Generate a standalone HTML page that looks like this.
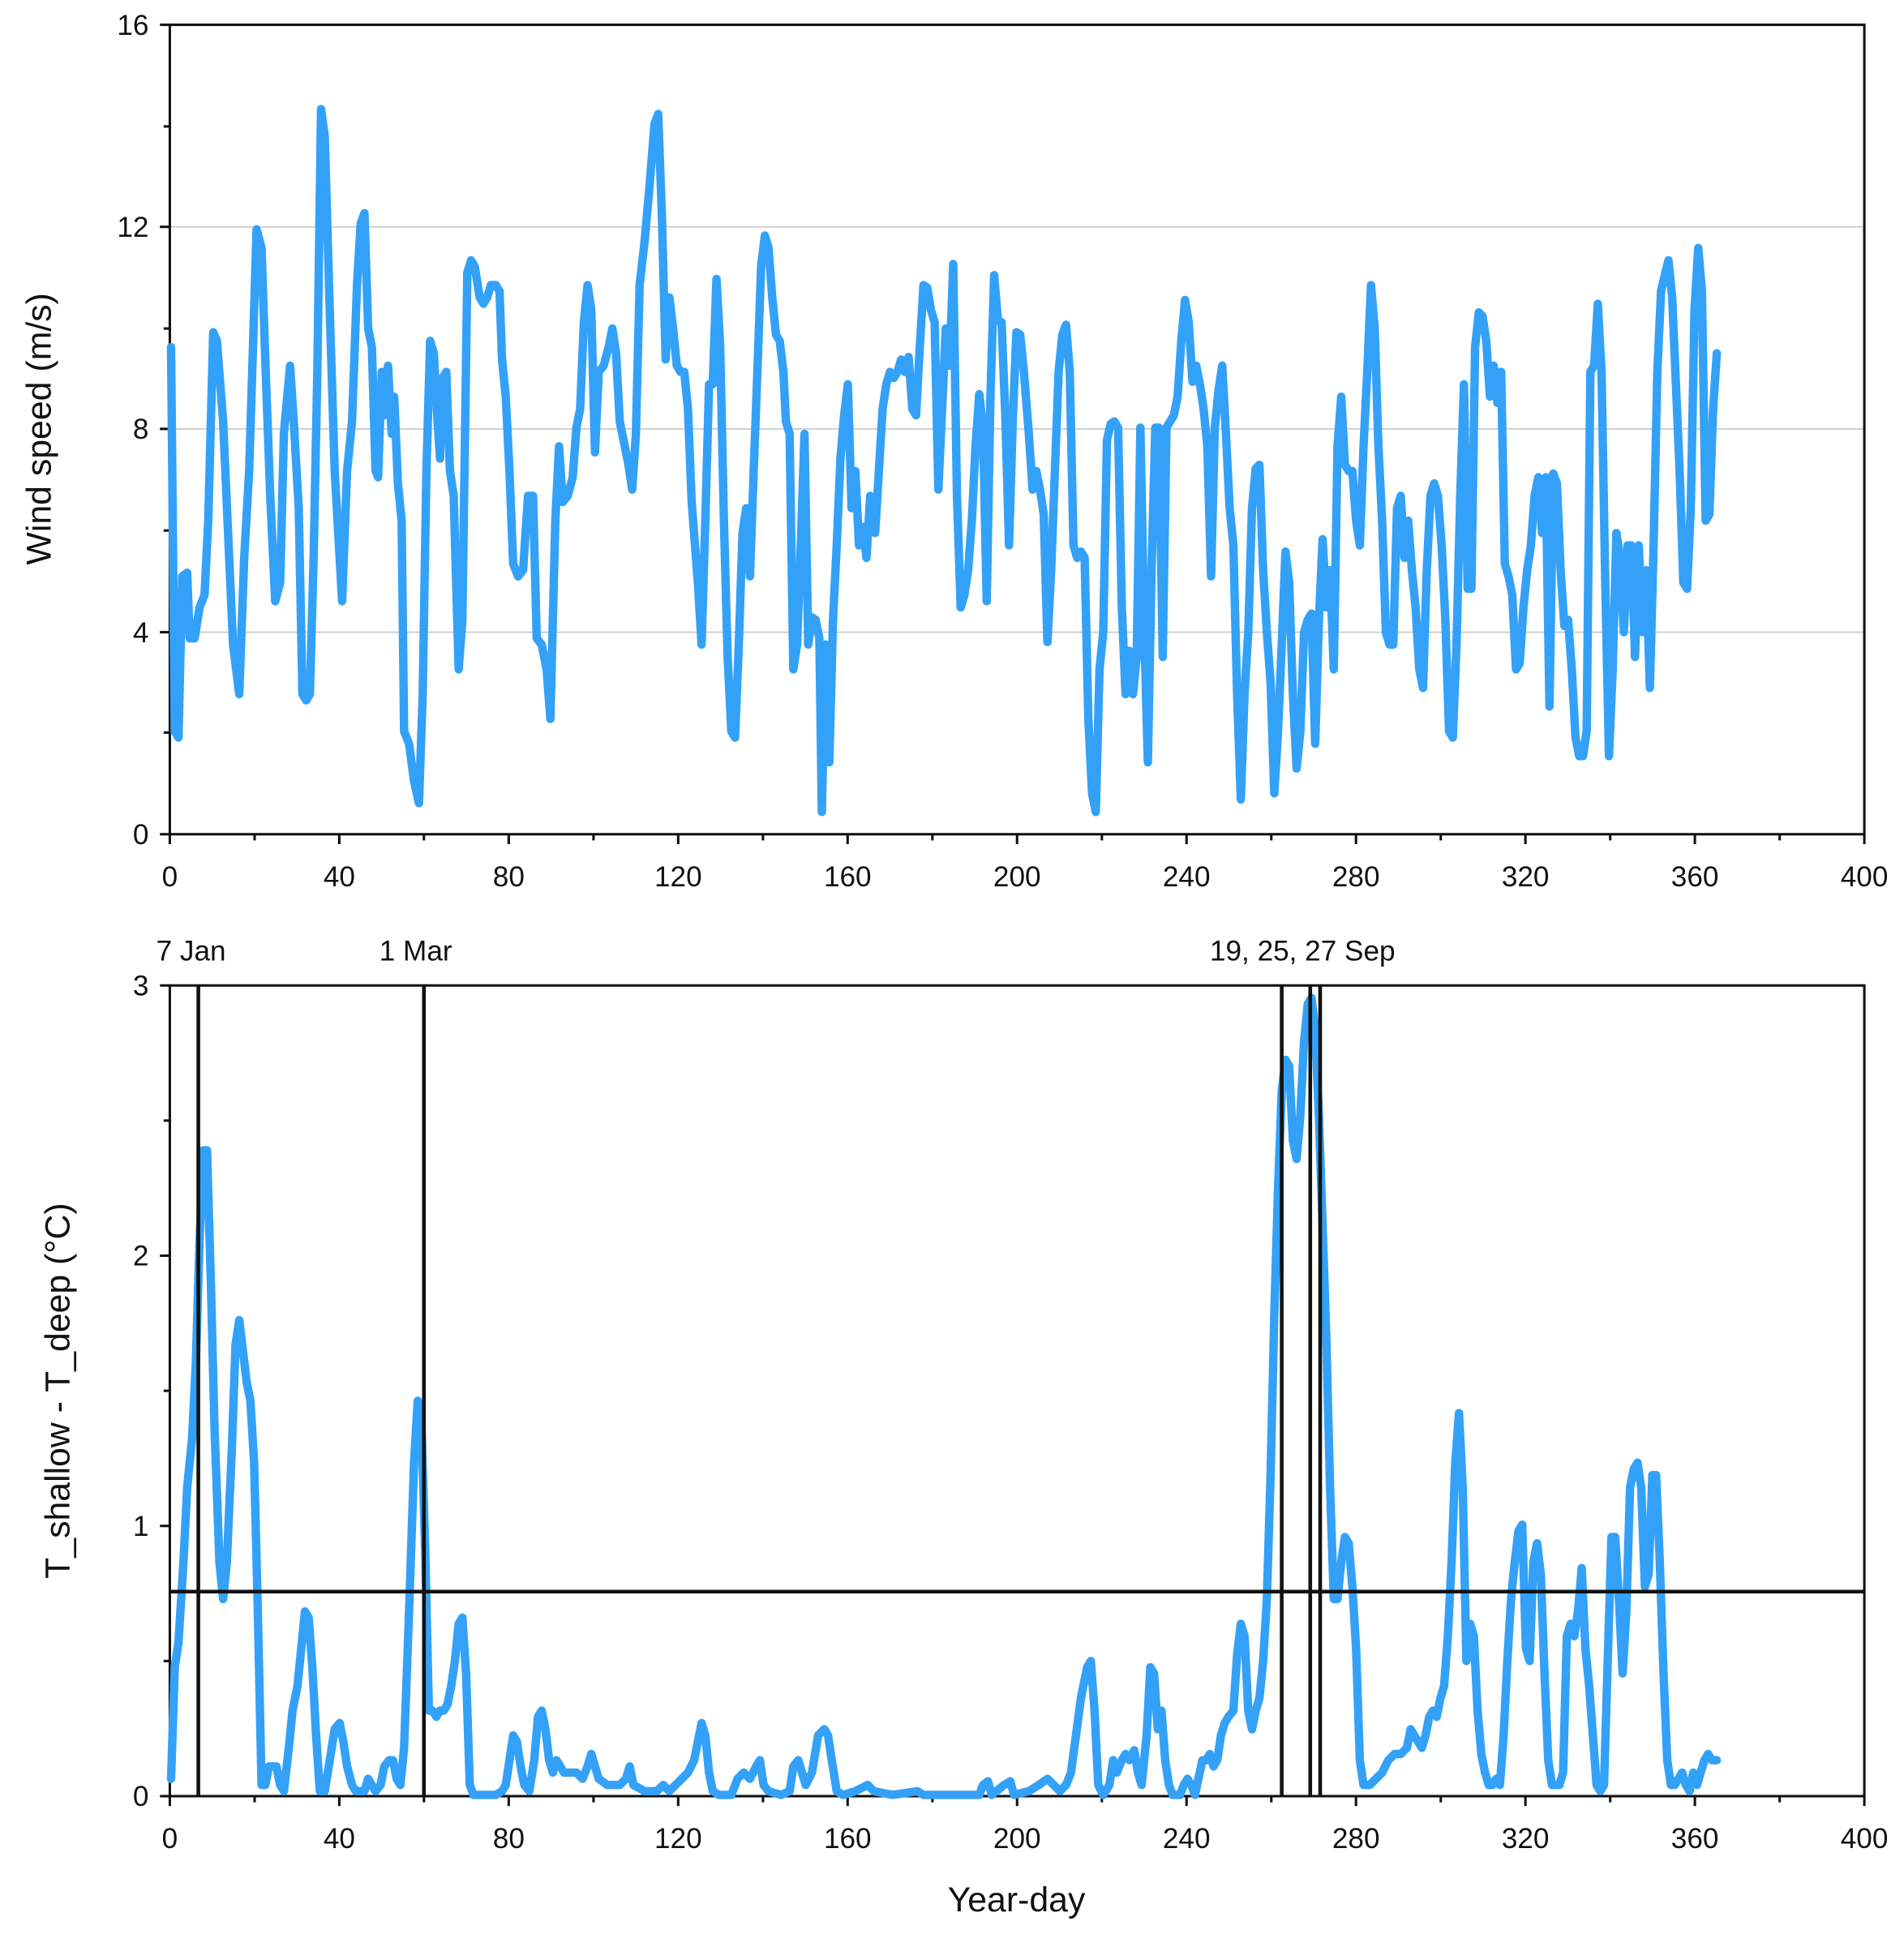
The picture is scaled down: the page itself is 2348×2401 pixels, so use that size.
<!DOCTYPE html>
<html><head><meta charset="utf-8"><style>
html,body{margin:0;padding:0;background:#fff}
svg{display:block}
text{font-family:"Liberation Sans",sans-serif;fill:#111}
</style></head><body>
<svg width="2348" height="2401" viewBox="0 0 1536 1570.7" preserveAspectRatio="none" xmlns="http://www.w3.org/2000/svg">
<g stroke="#d0d0d0" stroke-width="1.3">
<line x1="137" y1="183" x2="1504" y2="183"/><line x1="137" y1="346" x2="1504" y2="346"/><line x1="137" y1="510" x2="1504" y2="510"/>
</g>
<rect x="137" y="20" width="1367" height="653" fill="none" stroke="#111" stroke-width="2"/>
<g stroke="#111" stroke-width="2">
<line x1="129" y1="20" x2="137" y2="20"/><line x1="129" y1="183" x2="137" y2="183"/><line x1="129" y1="346" x2="137" y2="346"/><line x1="129" y1="510" x2="137" y2="510"/><line x1="129" y1="673" x2="137" y2="673"/>
<line x1="132" y1="102" x2="137" y2="102"/><line x1="132" y1="265" x2="137" y2="265"/><line x1="132" y1="428" x2="137" y2="428"/><line x1="132" y1="591" x2="137" y2="591"/>
</g>
<g stroke="#111" stroke-width="2" id="xt">
<line x1="137" y1="673" x2="137" y2="681"/><line x1="273.7" y1="673" x2="273.7" y2="681"/><line x1="410.4" y1="673" x2="410.4" y2="681"/><line x1="547.1" y1="673" x2="547.1" y2="681"/><line x1="683.8" y1="673" x2="683.8" y2="681"/><line x1="820.5" y1="673" x2="820.5" y2="681"/><line x1="957.2" y1="673" x2="957.2" y2="681"/><line x1="1093.9" y1="673" x2="1093.9" y2="681"/><line x1="1230.6" y1="673" x2="1230.6" y2="681"/><line x1="1367.3" y1="673" x2="1367.3" y2="681"/><line x1="1504" y1="673" x2="1504" y2="681"/>
<line x1="205.4" y1="673" x2="205.4" y2="678"/><line x1="342" y1="673" x2="342" y2="678"/><line x1="478.8" y1="673" x2="478.8" y2="678"/><line x1="615.5" y1="673" x2="615.5" y2="678"/><line x1="752.2" y1="673" x2="752.2" y2="678"/><line x1="888.9" y1="673" x2="888.9" y2="678"/><line x1="1025.6" y1="673" x2="1025.6" y2="678"/><line x1="1162.3" y1="673" x2="1162.3" y2="678"/><line x1="1299" y1="673" x2="1299" y2="678"/><line x1="1435.7" y1="673" x2="1435.7" y2="678"/>
</g>
<g font-size="23" text-anchor="end">
<text x="120" y="28">16</text><text x="120" y="191">12</text><text x="120" y="354">8</text><text x="120" y="518">4</text><text x="120" y="681">0</text>
</g>
<g font-size="23" text-anchor="middle">
<text x="137" y="715">0</text><text x="273.7" y="715">40</text><text x="410.4" y="715">80</text><text x="547.1" y="715">120</text><text x="683.8" y="715">160</text><text x="820.5" y="715">200</text><text x="957.2" y="715">240</text><text x="1093.9" y="715">280</text><text x="1230.6" y="715">320</text><text x="1367.3" y="715">360</text><text x="1504" y="715">400</text>
</g>
<text x="0" y="0" font-size="28" text-anchor="middle" transform="translate(41,346) rotate(-90)">Wind speed (m/s)</text>
<polyline fill="none" stroke="#33A1F7" stroke-width="6.8" stroke-linejoin="round" stroke-linecap="round" points="138,280 141,590 144,595 147,465 151,462 153,515 157,515 161,490 165,480 168,420 172,268 175,275 180,340 184,430 188,520 193,560 197,450 201,380 205,250 207,185 211,200 214,290 218,400 222,485 226,470 229,350 234,295 237,340 241,410 244,560 247,565 250,560 253,450 256,300 259,88 262,110 266,250 270,380 276,485 280,380 284,340 288,230 291,180 294,172 297,265 300,280 303,380 305,385 308,300 310,335 313,295 316,350 318,320 321,390 324,420 326,590 330,600 334,630 338,648 341,560 344,380 347,275 350,285 353,340 355,370 357,305 360,300 363,380 366,400 370,540 373,500 377,220 380,210 383,215 387,240 390,245 393,240 396,230 400,230 403,235 405,290 408,320 411,380 414,455 418,465 422,460 426,400 430,400 433,515 437,520 441,540 444,580 448,420 451,360 454,405 458,400 462,385 465,345 468,330 471,260 474,230 477,250 480,365 483,300 487,295 491,280 494,265 497,285 500,340 503,355 507,375 510,395 513,350 516,230 520,195 524,150 528,100 531,92 534,175 537,290 540,240 543,265 546,295 549,300 552,300 555,330 558,405 563,470 566,520 569,420 572,310 575,310 578,225 581,280 584,420 587,530 590,590 593,595 596,520 599,430 602,410 605,465 608,380 611,300 614,215 617,190 620,200 623,240 626,270 629,275 632,300 634,340 637,350 640,540 643,520 646,440 649,350 652,520 655,498 658,500 661,515 663,655 666,520 669,615 672,500 675,440 678,370 681,335 684,310 687,410 690,380 693,440 696,425 699,450 702,400 706,430 709,380 712,330 715,310 718,300 721,305 724,300 727,290 730,300 733,288 736,330 739,335 742,280 745,230 748,232 751,250 754,260 757,395 760,330 763,265 766,295 769,213 772,400 775,490 778,480 781,460 784,420 787,360 790,318 793,345 796,485 799,320 802,222 805,258 808,260 811,335 814,440 817,340 820,268 823,270 826,300 830,350 833,395 836,380 839,395 842,415 845,518 848,460 851,380 854,300 857,270 860,262 863,300 866,440 869,450 872,445 875,450 878,580 881,640 884,655 887,540 890,510 893,355 896,342 899,340 902,345 905,490 908,560 911,525 914,560 917,530 920,345 923,505 926,615 929,460 932,345 935,345 938,530 941,345 944,340 947,335 950,320 953,275 956,242 959,260 962,308 965,295 968,310 971,330 974,360 977,465 980,345 983,315 986,295 989,350 992,410 995,440 998,560 1001,645 1004,560 1007,510 1010,410 1013,378 1016,375 1019,460 1022,510 1025,550 1028,640 1031,590 1034,520 1037,445 1040,470 1043,560 1046,620 1049,590 1052,510 1055,500 1058,495 1061,600 1064,500 1067,435 1070,490 1073,460 1076,540 1079,360 1082,320 1085,375 1088,380 1091,380 1094,420 1097,440 1100,360 1103,300 1106,230 1109,265 1112,360 1115,420 1118,510 1121,520 1124,520 1127,410 1130,400 1133,450 1136,420 1139,460 1142,490 1145,540 1148,555 1151,460 1154,400 1157,390 1160,400 1163,440 1166,500 1169,590 1172,595 1175,520 1178,400 1181,310 1184,475 1187,475 1190,280 1193,252 1196,255 1199,275 1202,320 1205,295 1208,325 1211,300 1214,455 1217,465 1220,480 1223,540 1226,535 1229,490 1232,460 1235,440 1238,400 1241,385 1244,430 1247,385 1250,570 1253,382 1256,390 1259,460 1262,505 1265,500 1268,540 1271,595 1274,610 1277,610 1280,590 1283,300 1286,295 1289,245 1292,300 1295,470 1298,610 1301,540 1304,430 1307,450 1310,510 1313,440 1316,440 1319,530 1322,440 1325,510 1328,460 1331,555 1334,440 1337,300 1340,235 1343,222 1346,210 1349,240 1352,310 1355,380 1358,470 1361,475 1364,410 1367,250 1370,200 1373,235 1376,420 1379,415 1382,330 1385,285"/>

<rect x="137" y="795" width="1367" height="654" fill="none" stroke="#111" stroke-width="2"/>
<g stroke="#111" stroke-width="2">
<line x1="129" y1="795" x2="137" y2="795"/><line x1="129" y1="1013" x2="137" y2="1013"/><line x1="129" y1="1231" x2="137" y2="1231"/><line x1="129" y1="1449" x2="137" y2="1449"/>
<line x1="132" y1="904" x2="137" y2="904"/><line x1="132" y1="1122" x2="137" y2="1122"/><line x1="132" y1="1340" x2="137" y2="1340"/>
</g>
<use href="#xt" transform="translate(0,776)"/>
<g font-size="23" text-anchor="end">
<text x="120" y="803">3</text><text x="120" y="1021">2</text><text x="120" y="1239">1</text><text x="120" y="1457">0</text>
</g>
<g font-size="23" text-anchor="middle">
<text x="137" y="1491">0</text><text x="273.7" y="1491">40</text><text x="410.4" y="1491">80</text><text x="547.1" y="1491">120</text><text x="683.8" y="1491">160</text><text x="820.5" y="1491">200</text><text x="957.2" y="1491">240</text><text x="1093.9" y="1491">280</text><text x="1230.6" y="1491">320</text><text x="1367.3" y="1491">360</text><text x="1504" y="1491">400</text>
</g>
<text x="820" y="1542" font-size="28" text-anchor="middle">Year-day</text>
<text x="0" y="0" font-size="28" text-anchor="middle" transform="translate(56,1122) rotate(-90)">T_shallow - T_deep (°C)</text>
<g font-size="23">
<text x="126" y="775">7 Jan</text><text x="306" y="775">1 Mar</text><text x="976" y="775">19, 25, 27 Sep</text>
</g>
<polyline fill="none" stroke="#33A1F7" stroke-width="6.8" stroke-linejoin="round" stroke-linecap="round" points="138,1435 141,1345 144,1325 148,1260 151,1200 155,1160 158,1100 161,1000 164,928 167,928 170,1030 173,1150 177,1260 180,1290 183,1260 187,1170 190,1085 193,1065 196,1090 199,1115 202,1130 205,1180 208,1300 211,1440 214,1440 217,1425 220,1425 223,1425 226,1440 229,1445 233,1410 236,1380 240,1360 243,1330 246,1300 249,1305 252,1345 255,1400 258,1445 262,1445 266,1420 270,1395 274,1390 277,1405 280,1425 284,1440 287,1445 290,1445 294,1445 297,1435 300,1440 303,1445 307,1440 310,1425 314,1420 317,1420 320,1435 323,1440 326,1410 330,1300 334,1180 337,1130 340,1150 343,1250 346,1380 349,1380 352,1385 355,1380 358,1380 361,1375 364,1360 367,1340 370,1310 373,1305 376,1350 379,1440 382,1448 390,1448 400,1448 405,1445 408,1440 411,1420 414,1400 417,1405 420,1425 423,1440 427,1445 431,1420 434,1385 437,1380 440,1395 443,1420 446,1430 449,1420 452,1425 455,1430 460,1430 465,1430 470,1435 474,1425 477,1415 480,1425 483,1435 490,1440 500,1440 505,1435 508,1425 511,1440 520,1445 530,1445 535,1440 540,1445 545,1440 550,1435 555,1430 560,1420 563,1405 566,1390 569,1400 572,1430 575,1445 580,1448 590,1448 595,1435 600,1430 605,1435 610,1425 613,1420 616,1440 620,1445 630,1448 637,1445 640,1425 644,1420 647,1430 650,1440 655,1430 660,1400 665,1395 668,1400 671,1420 675,1445 680,1448 690,1445 700,1440 705,1445 720,1448 740,1445 745,1448 760,1448 770,1448 790,1448 793,1440 797,1437 800,1448 810,1440 815,1437 818,1448 830,1445 838,1440 845,1435 850,1440 855,1445 860,1440 864,1430 868,1400 872,1370 877,1345 880,1340 883,1380 886,1440 890,1448 895,1440 898,1420 901,1430 905,1420 908,1415 911,1420 915,1412 918,1430 921,1440 925,1400 928,1345 931,1350 934,1395 937,1380 940,1420 943,1440 946,1448 952,1448 955,1440 958,1435 961,1440 964,1448 970,1420 973,1420 976,1415 979,1425 982,1420 985,1400 988,1390 991,1385 995,1380 998,1335 1001,1310 1004,1320 1007,1380 1010,1395 1013,1380 1016,1370 1019,1340 1022,1290 1025,1190 1028,1060 1031,960 1034,880 1037,855 1040,860 1043,920 1046,935 1049,900 1052,840 1055,810 1058,805 1061,830 1064,900 1067,990 1070,1080 1073,1200 1076,1290 1079,1290 1082,1260 1085,1240 1088,1245 1091,1280 1094,1330 1097,1420 1100,1440 1105,1440 1110,1435 1115,1430 1120,1420 1125,1415 1130,1415 1135,1410 1138,1395 1141,1400 1144,1405 1147,1410 1150,1400 1153,1385 1156,1380 1159,1385 1162,1370 1165,1360 1168,1320 1171,1260 1174,1180 1177,1140 1180,1200 1183,1340 1186,1310 1189,1320 1192,1380 1195,1415 1198,1430 1201,1440 1204,1440 1207,1435 1210,1440 1213,1400 1216,1340 1219,1290 1222,1260 1225,1235 1228,1230 1231,1330 1234,1340 1237,1260 1240,1245 1243,1270 1246,1350 1249,1420 1252,1440 1255,1440 1258,1440 1261,1430 1264,1320 1267,1310 1270,1320 1273,1300 1276,1265 1279,1330 1282,1360 1285,1400 1288,1440 1291,1445 1294,1440 1297,1340 1300,1240 1303,1240 1306,1290 1309,1350 1312,1300 1315,1200 1318,1185 1321,1180 1324,1200 1327,1280 1330,1270 1333,1190 1336,1190 1339,1260 1342,1350 1345,1420 1348,1440 1351,1440 1354,1435 1357,1430 1360,1440 1363,1445 1366,1430 1369,1440 1372,1430 1375,1420 1378,1415 1381,1420 1385,1420"/>
<g stroke="#111" stroke-width="3">
<line x1="137" y1="1284" x2="1504" y2="1284"/>
<line x1="160" y1="795" x2="160" y2="1449"/>
<line x1="342" y1="795" x2="342" y2="1449"/>
<line x1="1034" y1="795" x2="1034" y2="1449"/>
<line x1="1057" y1="795" x2="1057" y2="1449"/>
<line x1="1065" y1="795" x2="1065" y2="1449"/>
</g>
</svg>
</body></html>
